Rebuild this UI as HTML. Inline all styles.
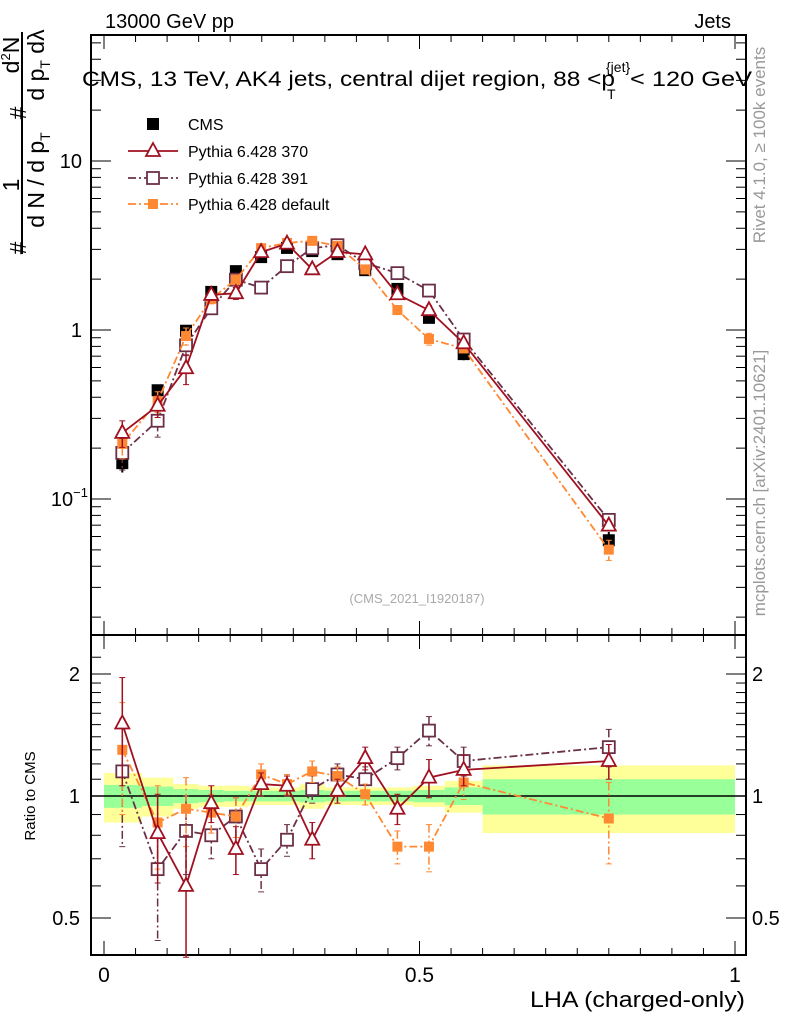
<!DOCTYPE html>
<html><head><meta charset="utf-8"><style>
body{margin:0;background:#fff;}
svg{display:block;font-family:"Liberation Sans",sans-serif;}
</style></head><body>
<svg id="c" width="786" height="1024" viewBox="0 0 786 1024" xmlns="http://www.w3.org/2000/svg">
<text x="105" y="28" font-size="20">13000 GeV pp</text>
<text x="731" y="28" font-size="20" text-anchor="end">Jets</text>
<g font-size="21">
<text x="82" y="86" textLength="533" lengthAdjust="spacingAndGlyphs">CMS, 13 TeV, AK4 jets, central dijet region, 88 &lt;p</text>
<text x="607" y="99" font-size="14">T</text>
<text x="606" y="72" font-size="14">{jet}</text>
<text x="630" y="86" textLength="122" lengthAdjust="spacingAndGlyphs">&lt; 120 GeV</text>
</g>
<text transform="translate(765,145) rotate(-90)" font-size="17" fill="#999" text-anchor="middle">Rivet 4.1.0, ≥ 100k events</text>
<text transform="translate(765,483) rotate(-90)" font-size="17" fill="#999" text-anchor="middle">mcplots.cern.ch [arXiv:2401.10621]</text>
<text x="417" y="603" font-size="13" fill="#aaa" text-anchor="middle">(CMS_2021_I1920187)</text>
<g font-size="23">
<text transform="translate(26,248) rotate(-90)" text-anchor="middle">#</text>
<text transform="translate(19,185) rotate(-90)" text-anchor="middle">1</text>
<text transform="translate(26,113) rotate(-90)" text-anchor="middle">#</text>
<text transform="translate(19,55) rotate(-90)" text-anchor="middle">d<tspan font-size="13" dy="-9">2</tspan><tspan dy="9">N</tspan></text>
<line x1="22" y1="32" x2="22" y2="254" stroke="#000" stroke-width="2"/>
<text transform="translate(44,180) rotate(-90)" text-anchor="middle">d N / d p<tspan font-size="14" dy="6">T</tspan></text>
<text transform="translate(44,65) rotate(-90)" text-anchor="middle">d p<tspan font-size="14" dy="6">T</tspan><tspan dy="-6">  d</tspan>λ</text>
</g>
<text transform="translate(35,796) rotate(-90)" font-size="15" text-anchor="middle">Ratio to CMS</text>
<text x="530" y="1007" font-size="22" textLength="215" lengthAdjust="spacingAndGlyphs">LHA (charged-only)</text>
<g id="g"></g>
</svg>
<script>
const xCenters=[0.029,0.085,0.13,0.17,0.209,0.249,0.29,0.33,0.37,0.414,0.465,0.515,0.57,0.80];
const binEdges=[0,0.06,0.11,0.15,0.19,0.23,0.27,0.31,0.35,0.39,0.44,0.49,0.54,0.6,1.0];
const cmsValues=[0.163,0.44,0.99,1.68,2.23,2.7,3.06,2.93,2.81,2.26,1.75,1.18,0.72,0.057];
const cmsErr=[0.12,0.06,0.06,0.05,0.05,0.05,0.05,0.05,0.05,0.05,0.05,0.06,0.08,0.12];
const ratio370=[1.51,0.81,0.60,0.96,0.74,1.07,1.06,0.78,1.03,1.24,0.93,1.11,1.16,1.22];
const ratio391=[1.15,0.66,0.82,0.80,0.89,0.66,0.78,1.04,1.13,1.10,1.24,1.45,1.22,1.32];
const ratioDef=[1.30,0.86,0.93,0.91,0.89,1.13,1.07,1.15,1.12,1.01,0.75,0.75,1.08,0.88];
const err370=[0.45,0.2,0.2,0.1,0.1,0.07,0.06,0.08,0.07,0.08,0.08,0.12,0.1,0.12];
const err391=[0.4,0.22,0.18,0.1,0.1,0.08,0.07,0.08,0.07,0.08,0.08,0.12,0.1,0.14];
const errDef=[0.4,0.2,0.18,0.1,0.1,0.07,0.06,0.07,0.06,0.06,0.07,0.1,0.1,0.2];
const yellowBand=[0.14,0.11,0.07,0.06,0.06,0.05,0.05,0.07,0.05,0.05,0.05,0.06,0.09,0.19];
const greenBand=[0.065,0.055,0.04,0.035,0.03,0.03,0.03,0.035,0.03,0.03,0.03,0.035,0.05,0.1];
const xTicks=[0,0.5,1];
const xTickLabels=["0","0.5","1"];
const mainTicks=[10,1,0.1];
const ratioTicks=[2,1,0.5];
const ratioTickLabels=["2","1","0.5"];

const NS="http://www.w3.org/2000/svg";
const g=document.getElementById('g');
function mk(t,a,p){const e=document.createElementNS(NS,t);for(const k in a)e.setAttribute(k,a[k]);(p||g).appendChild(e);return e;}
const L=91,R=746,MT=35,MB=635,RB=955;
const X=v=>104+v*631;
const Ym=v=>330-169*Math.log10(v);
const Yr=v=>796-122*Math.log2(v);

binEdges.slice(0,-1).forEach((e,i)=>{
 const y=mk('rect',{x:X(e),y:Yr(1+yellowBand[i]),width:X(binEdges[i+1])-X(e),height:Yr(1-yellowBand[i])-Yr(1+yellowBand[i]),fill:'#ffff99'});
 
 
 const gr=mk('rect',{x:X(e),y:Yr(1+greenBand[i]),width:X(binEdges[i+1])-X(e),height:Yr(1-greenBand[i])-Yr(1+greenBand[i]),fill:'#99ff99'});
 
 
});
mk('line',{x1:L,x2:R,y1:Yr(1),y2:Yr(1),stroke:'#000','stroke-width':1.5});

const f1=mk('rect',{x:L,y:MT,width:R-L,height:MB-MT,fill:'none',stroke:'#000','stroke-width':2});


const f2=mk('rect',{x:L,y:MB,width:R-L,height:RB-MB,fill:'none',stroke:'#000','stroke-width':2});



for(let i=0;i<=20;i++){const v=i/20,big=i%10==0,len=big?14:7;
 [MT,MB,RB].forEach(y=>{mk('line',{x1:X(v),x2:X(v),y1:y,y2:y+(y==MT||y==MB?len:-len),stroke:'#000'});if(y==MB)mk('line',{x1:X(v),x2:X(v),y1:y,y2:y-len,stroke:'#000'});});
}
xTicks.forEach((v,i)=>{const t=mk('text',{x:X(v),y:982,'font-size':21,'text-anchor':'middle'});t.textContent=xTickLabels[i];
 
 });
for(let d=-2;d<=1;d++)for(let m=1;m<10;m++){const v=m*Math.pow(10,d),y=Ym(v);if(y<MT||y>MB)continue;const len=m==1?20:10;
 mk('line',{x1:L,x2:L+len,y1:y,y2:y,stroke:'#000'});mk('line',{x1:R,x2:R-len,y1:y,y2:y,stroke:'#000'});}
mainTicks.forEach(v=>{const t=mk('text',{x:82,y:Ym(v)+7,'font-size':20,'text-anchor':'end'});
 if(v==0.1){t.innerHTML='10<tspan font-size="13" dy="-9">−1</tspan>';t.setAttribute('x',88);}else t.textContent=String(v);
 
 });
[0.5,0.6,0.7,0.8,0.9,1,1.1,1.2,1.3,1.4,1.5,1.6,1.7,1.8,1.9,2,2.2].forEach(v=>{const y=Yr(v);if(y<MB||y>RB)return;const len=(v==0.5||v==1||v==2)?20:10;
 mk('line',{x1:L,x2:L+len,y1:y,y2:y,stroke:'#000'});mk('line',{x1:R,x2:R-len,y1:y,y2:y,stroke:'#000'});});
ratioTicks.forEach((v,i)=>{[[80,'end'],[752,'start']].forEach(([x,a])=>{const t=mk('text',{x:x,y:Yr(v)+7,'font-size':20,'text-anchor':a});t.textContent=ratioTickLabels[i];
 
 });});

function marker(type,col,x,y){
 if(type=='tri')return mk('path',{d:`M${x},${y-8}L${x+7},${y+5}L${x-7},${y+5}Z`,fill:'#fff',stroke:col,'stroke-width':1.8});
 if(type=='sq')return mk('rect',{x:x-6,y:y-6,width:12,height:12,fill:'#fff',stroke:col,'stroke-width':1.8});
 if(type=='fsq')return mk('rect',{x:x-5,y:y-5,width:10,height:10,fill:col});
 return mk('rect',{x:x-6,y:y-6,width:12,height:12,fill:col});
}
const series=[
 {r:ratio391,e:err391,col:'#6b3048',dash:'8,3,2,3',type:'sq',name:'pythia-391'},
 {r:ratioDef,e:errDef,col:'#ff8833',dash:'8,3,2,3',type:'fsq',name:'pythia-default'},
 {r:ratio370,e:err370,col:'#a01020',dash:'',type:'tri',name:'pythia-370'}];
cmsValues.forEach((v,i)=>{mk('line',{x1:X(xCenters[i]),x2:X(xCenters[i]),y1:Ym(v*(1+cmsErr[i])),y2:Ym(v*(1-cmsErr[i])),stroke:'#000','stroke-width':2});
 const m=marker('cms','#000',X(xCenters[i]),Ym(v));
 
 });
series.forEach(s=>{
 const mv=s.r.map((r,i)=>r*cmsValues[i]);
 const pl=mk('polyline',{points:mv.map((v,i)=>X(xCenters[i])+','+Ym(v)).join(' '),fill:'none',stroke:s.col,'stroke-width':1.8,'stroke-dasharray':s.dash});
 
 
 const pr=mk('polyline',{points:s.r.map((v,i)=>X(xCenters[i])+','+Yr(v)).join(' '),fill:'none',stroke:s.col,'stroke-width':1.8,'stroke-dasharray':s.dash});
 
 
 s.r.forEach((r,i)=>{const x=X(xCenters[i]);const rel=Math.min(s.e[i]/r*0.6,0.5);
  mk('line',{x1:x,x2:x,y1:Ym(mv[i]*(1+rel)),y2:Ym(mv[i]*(1-rel)),stroke:s.col,'stroke-width':1.5,'stroke-dasharray':s.dash});
  [Ym(mv[i]*(1+rel)),Ym(mv[i]*(1-rel))].forEach(y=>mk('line',{x1:x-3,x2:x+3,y1:y,y2:y,stroke:s.col}));
  mk('line',{x1:x,x2:x,y1:Yr(r+s.e[i]),y2:Yr(Math.max(r-s.e[i],0.3)),stroke:s.col,'stroke-width':1.5,'stroke-dasharray':s.dash});
  [Yr(r+s.e[i]),Yr(Math.max(r-s.e[i],0.3))].forEach(y=>mk('line',{x1:x-3,x2:x+3,y1:y,y2:y,stroke:s.col}));
  const a=marker(s.type,s.col,x,Ym(mv[i]));
  
  
  const b=marker(s.type,s.col,x,Yr(r));
  
  
 });
});
const leg=[['cms','#000','','CMS',124],['tri','#a01020','','Pythia 6.428 370',151],['sq','#6b3048','8,3,2,3','Pythia 6.428 391',178],['fsq','#ff8833','8,3,2,3','Pythia 6.428 default',204]];
leg.forEach(([t,c,d,l,y])=>{
 if(t!='cms')mk('line',{x1:128,x2:178,y1:y,y2:y,stroke:c,'stroke-width':1.8,'stroke-dasharray':d});
 marker(t,c,153,y);
 const tx=mk('text',{x:188,y:y+6,'font-size':16});tx.textContent=l;
 
 
});
</script>
</body></html>
